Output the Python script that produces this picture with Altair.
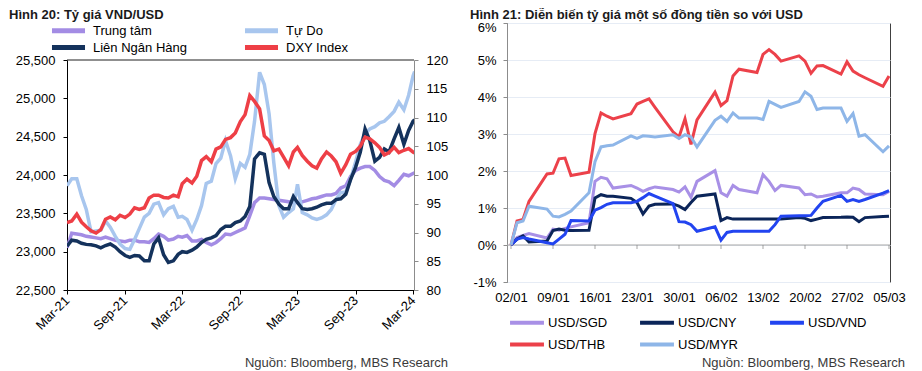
import altair as alt
import pandas as pd

FONT = "Liberation Sans"

# ---------------- Left panel: Hình 20 ----------------
left_title = "Hình 20: Tỷ giá VND/USD"
source_text = "Nguồn: Bloomberg, MBS Research"
left_series = ["Trung tâm", "Tự Do", "Liên Ngân Hàng", "DXY Index"]
left_colors = ["#A38CE4", "#A8C6EE", "#14325C", "#EE3F46"]
left_ticks = ["2021-03-01", "2021-09-01", "2022-03-01", "2022-09-01",
              "2023-03-01", "2023-09-01", "2024-03-01"]

left_dates = [f"{y}-{m:02d}-{d:02d}" for y in range(2021, 2025)
              for m in range(1, 13) for d in (1, 16)]
left_dates = [s for s in left_dates if "2021-03-01" <= s <= "2024-03-01"] + ["2024-03-06"]

trung_tam = [23050, 23240, 23230, 23220, 23200, 23190, 23180, 23170, 23190, 23170,
             23150, 23140, 23130, 23150, 23150, 23130, 23130, 23120, 23170, 23230,
             23200, 23150, 23165, 23200, 23190, 23210, 23140, 23140, 23160, 23120,
             23090, 23120, 23170, 23230, 23220, 23250, 23280, 23310, 23470, 23640,
             23700, 23700, 23690, 23680, 23670, 23660, 23650, 23640, 23640, 23650,
             23670, 23690, 23700, 23720, 23740, 23740, 23760, 23830, 23860, 23980,
             24060, 24090, 24110, 24110, 24060, 23980, 23930, 23910, 23860, 23930,
             24010, 23990, 24020, 24030]
tu_do = [23860, 23950, 23950, 23730, 23550, 23260, 23270, 23280, 23400, 23320,
         23200, 23100, 23040, 23030, 23160, 23300, 23450, 23500, 23620, 23640,
         23480, 23560, 23590, 23450, 23460, 23420, 23280, 23420, 23600, 23890,
         23920, 24150, 24220, 24450, 24250, 23950, 24150, 24100, 24270, 24700,
         25340, 25180, 24800, 24160, 23600, 23450, 23510, 23560, 23880, 23510,
         23480, 23440, 23420, 23440, 23480, 23550, 23680, 23770, 23780, 23940,
         24170, 24400, 24540, 24600, 24630, 24680, 24700, 24760, 24830, 24950,
         24850, 25040, 25290, 25350]
lien_ngan_hang = [23070, 23150, 23140, 23110, 23095, 23090, 23075, 23050, 23080, 23100,
                  23060, 23000, 22950, 22925, 22950, 22945, 22880, 22880, 23100, 23180,
                  22960, 22860, 22880, 22965, 23000, 22990, 23020, 23060, 23120, 23160,
                  23180, 23210, 23290, 23330, 23330, 23380, 23400, 23460, 23590, 24210,
                  24290, 24270, 23900, 23720, 23620, 23560, 23560, 23720, 23640, 23560,
                  23550, 23560, 23580, 23610, 23630, 23630, 23680, 23690, 23750, 23940,
                  24100, 24300, 24600, 24450, 24180, 24230, 24340, 24300, 24470, 24620,
                  24400, 24580, 24700, 24720]
dxy = [91.7, 92.0, 93.2, 91.8, 91.0, 90.3, 89.9, 90.5, 92.3, 92.7,
       92.2, 93.0, 92.6, 93.2, 94.3, 94.0, 94.3, 96.0, 96.5, 96.5,
       96.1, 96.0, 96.5, 96.2, 98.5, 99.3, 98.6, 99.8, 102.5, 103.2,
       102.3, 104.5, 104.9, 106.2, 106.5, 107.3, 109.3, 110.5, 113.8, 112.8,
       111.5, 106.8, 106.0, 104.2, 104.5, 103.1, 101.6, 104.0, 104.8, 103.4,
       102.4, 101.6, 101.2, 102.8, 104.0, 103.3, 102.3, 100.3, 101.8, 103.6,
       104.1, 105.0, 106.6, 106.3, 105.6, 104.8, 103.5, 103.9, 104.8, 103.9,
       104.3, 104.6, 104.0, 103.8]
vnd_ticks = list(range(22500, 25501, 500))
dxy_ticks = list(range(80, 121, 5))

# ---------------- Right panel: Hình 21 ----------------
right_title = "Hình 21: Diễn biến tỷ giá một số đồng tiền so với USD"
right_series = ["USD/SGD", "USD/CNY", "USD/VND", "USD/THB", "USD/MYR"]
right_colors = ["#A890E6", "#0B2559", "#2244F0", "#EC414A", "#8EB6E8"]
right_ticks = ["2024-01-02", "2024-01-09", "2024-01-16", "2024-01-23", "2024-01-30",
               "2024-02-06", "2024-02-13", "2024-02-20", "2024-02-27", "2024-03-05"]
right_dates = [d.strftime("%Y-%m-%d") for d in pd.bdate_range("2024-01-02", "2024-03-05")]

usd_sgd = [0, 0.20, 0.26, 0.31, 0.19, 0.43, 0.40, 0.45, 0.49, 0.60, 1.72, 1.83, 1.79, 1.54,
           1.61, 1.54, 1.45, 1.52, 1.57, 1.50, 1.43, 1.57, 1.29, 1.72, 2.01, 1.41, 1.32,
           1.61, 1.50, 1.41, 1.90, 1.72, 1.47, 1.61, 1.54, 1.36, 1.38, 1.30, 1.32, 1.41,
           1.41, 1.54, 1.50, 1.38, 1.36, 1.45]
usd_cny = [0, 0.16, 0.25, 0.08, 0.11, 0.39, 0.43, 0.40, 0.39, 0.40, 1.27, 1.36, 1.32, 1.32,
           1.26, 1.15, 0.84, 1.05, 1.10, 1.11, 1.05, 0.96, 1.15, 1.32, 1.38, 0.66, 0.74,
           0.70, 0.70, 0.70, 0.70, 0.70, 0.70, 0.70, 0.74, 0.72, 0.66, 0.70, 0.74, 0.75,
           0.76, 0.75, 0.63, 0.74, 0.77, 0.78]
usd_vnd = [0, 0.16, 0.20, 0.16, 0.06, 0.03, 0.16, 0.29, 0.66, 0.65, 0.94, 1.01, 1.10, 1.14,
           1.14, 1.18, 1.28, 1.39, 1.32, 1.12, 0.63, 0.62, 0.55, 0.37, 0.49, 0.13, 0.34,
           0.37, 0.37, 0.37, 0.37, 0.37, 0.55, 0.78, 0.79, 0.79, 0.80, 1.00, 1.18, 1.34,
           1.18, 1.23, 1.18, 1.23, 1.40, 1.47]
usd_thb = [0, 0.65, 0.69, 1.18, 1.92, 1.94, 2.33, 2.35, 1.88, 1.97, 3.01, 3.57, 3.48, 3.41,
           3.55, 3.81, 3.88, 3.95, 3.72, 3.06, 2.92, 3.41, 2.72, 3.38, 4.13, 3.77, 3.90,
           4.57, 4.75, 4.66, 5.15, 5.28, 5.15, 4.97, 5.11, 4.97, 4.64, 4.84, 4.85, 4.62,
           4.95, 4.70, 4.60, 4.52, 4.29, 4.57]
usd_myr = [0, 0.60, 0.65, 1.05, 0.97, 0.78, 0.76, 0.83, 0.92, 1.41, 2.25, 2.65, 2.68, 2.70,
           2.95, 2.88, 2.95, 2.94, 2.92, 2.98, 2.88, 2.98, 2.92, 2.65, 3.37, 3.48, 3.34,
           3.57, 3.43, 3.43, 3.39, 3.88, 3.80, 3.72, 3.88, 4.14, 4.02, 3.66, 3.70, 3.70,
           3.34, 3.55, 2.94, 2.98, 2.52, 2.68]
pct_ticks = [-1, 0, 1, 2, 3, 4, 5, 6]


def dt(s, hours=0):
    y, m, d = (int(p) for p in s.split("-"))
    return alt.DateTime(year=y, month=m, date=d, hours=hours, utc=True)


def text_layer(txt, x, y, align="left", bold=False):
    return alt.Chart(pd.DataFrame({"t": [txt]})).mark_text(
        align=align, baseline="alphabetic", font=FONT, fontSize=13,
        fontWeight="bold" if bold else "normal",
        color="#1a1a1a" if bold else "#3a3a3a",
    ).encode(text="t:N", x=alt.value(x), y=alt.value(y))


# ---------- left chart (view spans 22..289, data area 59..289) ----------
W1, H1 = 347, 267
Y_TOP1 = 37
left_df = pd.DataFrame({
    "date": left_dates * 4,
    "series": sum([[s] * len(left_dates) for s in left_series], []),
    "value": trung_tam + tu_do + lien_ngan_hang + dxy,
})

x_left = alt.X("date:T", title=None,
               scale=alt.Scale(type="utc", domain=[dt("2021-03-01"), dt("2024-03-04")]),
               axis=alt.Axis(values=[dt(s) for s in left_ticks],
                             labelExpr="utcFormat(datum.value, '%b-%y')",
                             labelAngle=-45, labelAlign="right", labelBaseline="middle",
                             labelPadding=4, tickSize=4, labelOverlap=False, labelFlush=False,
                             tickColor="#000", domainColor="#000", grid=False))
left_color = alt.Color("series:N",
                       scale=alt.Scale(domain=left_series, range=left_colors),
                       legend=alt.Legend(title=None, orient="none", legendX=-18, legendY=1,
                                         direction="horizontal", padding=0,
                                         columns=2, columnPadding=55, rowPadding=3,
                                         clipHeight=13,
                                         symbolType="stroke", symbolSize=1090,
                                         symbolStrokeWidth=5, labelFontSize=13,
                                         labelFont=FONT, labelColor="#000", labelOffset=5))
y_vnd = alt.Y("value:Q", title=None,
              scale=alt.Scale(domain=[22500, 25500], zero=False, nice=False,
                              range=[H1, Y_TOP1]),
              axis=alt.Axis(values=vnd_ticks, labelExpr="format(datum.value, ',')",
                            tickSize=4, labelPadding=8, labelOverlap=False,
                            tickColor="#000", domainColor="#000", grid=False))
y_dxy = alt.Y("value:Q", title=None,
              scale=alt.Scale(domain=[80, 120], zero=False, nice=False,
                              range=[H1, Y_TOP1]),
              axis=alt.Axis(orient="right", values=dxy_ticks, tickSize=4, labelPadding=8,
                            labelExpr="format(datum.value, 'd')", labelOverlap=False,
                            tickColor="#8c8c8c", domainColor="#8c8c8c", grid=False))


def left_line(name, y_enc):
    return alt.Chart(left_df).transform_filter(alt.datum.series == name).mark_line(
        strokeWidth=3.5, clip=True).encode(x=x_left, y=y_enc, color=left_color)


top_border = alt.Chart(pd.DataFrame({"value": [25500]})).mark_rule(
    color="#202020", strokeWidth=1).encode(y=y_vnd)
vnd_layer = alt.layer(top_border,
                      left_line("Trung tâm", y_vnd), left_line("Tự Do", y_vnd),
                      left_line("Liên Ngân Hàng", y_vnd))
left = alt.layer(
    vnd_layer,
    left_line("DXY Index", y_dxy),
    text_layer(left_title, -58, -4, bold=True),
    text_layer(source_text, 381, 344, align="right"),
).resolve_scale(y="independent").properties(
    width=W1, height=H1, view=alt.ViewBackground(stroke="transparent"))

# ---------- right chart ----------
W2, H2 = 383, 259
right_vals = [usd_sgd, usd_cny, usd_vnd, usd_thb, usd_myr]
right_df = pd.DataFrame({
    "date": right_dates * 5,
    "series": sum([[s] * len(right_dates) for s in right_series], []),
    "value": sum(right_vals, []),
})
x_right = alt.X("date:T", title=None,
                scale=alt.Scale(type="utc", domain=[dt("2024-01-01", 8), dt("2024-03-05", 4)]),
                axis=alt.Axis(values=[dt(s) for s in right_ticks],
                              labelExpr="utcFormat(datum.value, '%d/%m')",
                              labelPadding=9, ticks=False, domain=False, labelOverlap=False,
                              labelFlush=False, grid=False, labelAngle=0))
y_right = alt.Y("value:Q", title=None,
                scale=alt.Scale(domain=[-1, 6], zero=False, nice=False),
                axis=alt.Axis(values=pct_ticks, tickCount=8, labelExpr="datum.value + '%'",
                              tickSize=4, labelPadding=7,
                              labelOffset={"condition": {"test": "datum.value === 6", "value": 4},
                                           "value": 0.5},
                              tickColor="#8c8c8c", domainColor="#8c8c8c",
                              labelOverlap=False, labelFlush=False,
                              grid=True, gridColor="#E6ECF5", gridWidth=1))
right_color = alt.Color("series:N",
                        scale=alt.Scale(domain=right_series, range=right_colors),
                        legend=alt.Legend(title=None, orient="none", legendX=1, legendY=293,
                                          direction="horizontal", padding=0,
                                          columns=3, columnPadding=30, rowPadding=8,
                                          clipHeight=13,
                                          symbolType="stroke", symbolSize=1150,
                                          symbolStrokeWidth=4, labelFontSize=13,
                                          labelFont=FONT, labelColor="#000", labelOffset=2))

zero_line = alt.Chart(pd.DataFrame({"value": [0]})).mark_rule(
    color="#A6A6A6", strokeWidth=1).encode(y=y_right)
week_ticks = alt.Chart(pd.DataFrame({"date": right_ticks, "value": [0] * len(right_ticks)})).mark_tick(
    orient="vertical", size=4, thickness=1, color="#808080", yOffset=2).encode(
    x=x_right, y=y_right)


def right_line(name):
    return alt.Chart(right_df).transform_filter(alt.datum.series == name).mark_line(
        strokeWidth=3).encode(x=x_right, y=y_right, color=right_color)


right = alt.layer(
    zero_line, week_ticks,
    *[right_line(s) for s in right_series],
    text_layer(right_title, -37, -4, bold=True),
    text_layer(source_text, 398, 344, align="right"),
).properties(width=W2, height=H2)

chart = alt.hconcat(left, right, spacing=20).resolve_scale(
    color="independent").properties(padding=0).configure(
    font=FONT).configure_view(stroke="#404040", strokeWidth=1).configure_axis(
    labelFont=FONT, labelFontSize=13, labelColor="#000")

chart.save("out.html", embed_options={"renderer": "svg", "actions": False})
